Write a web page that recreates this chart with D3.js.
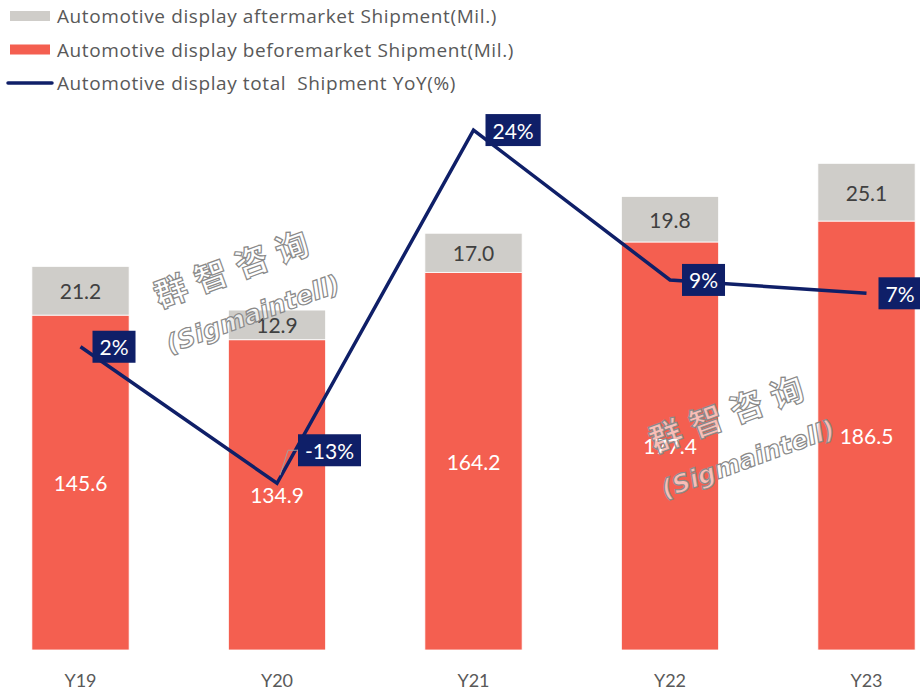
<!DOCTYPE html>
<html><head><meta charset="utf-8">
<script src="https://cdn.jsdelivr.net/npm/d3@7"></script>
<style>body{margin:0;background:#fff} svg{display:block}</style>
</head><body><svg id="c" width="920" height="698"></svg>
<script>
const categories = ["Y19","Y20","Y21","Y22","Y23"];
const beforemarket = [145.6,134.9,164.2,177.4,186.5];
const aftermarket = [21.2,12.9,17.0,19.8,25.1];
const yoy = [1.6,-12.7,24.3,8.6,7.2];
const legendLabels = [
  "Automotive display aftermarket Shipment(Mil.)",
  "Automotive display beforemarket Shipment(Mil.)",
  "Automotive display total  Shipment YoY(%)"
];
const watermarkCN = "群智咨询";
const watermarkEN = "(Sigmaintell)";

const FONT = "Lato, 'Open Sans', sans-serif";
const LFONT = "'Open Sans', sans-serif";
const RED = "#f45f50", GRAY = "#cfcdc9", NAVY = "#0f1f68";

const svg = d3.select("#c");
const x = d3.scaleBand().domain(categories).range([-17.75, 964.75]).paddingInner(0.505).paddingOuter(0.2525);
const y = d3.scaleLinear().domain([0, 280]).range([650, 6]);
const y2 = d3.scaleLinear().domain([-30, 40]).range([648.4, -19.8]);

const data = categories.map((c, i) => ({c, b: beforemarket[i], a: aftermarket[i], r: yoy[i]}));

// bars
const g = svg.append("g");
g.selectAll("rect.b").data(data).join("rect")
  .attr("x", d => x(d.c)).attr("width", x.bandwidth())
  .attr("y", d => y(d.b)).attr("height", d => y(0) - y(d.b))
  .attr("fill", RED).attr("stroke", "#fff").attr("stroke-width", 0.8);
g.selectAll("rect.a").data(data).join("rect")
  .attr("x", d => x(d.c)).attr("width", x.bandwidth())
  .attr("y", d => y(d.b + d.a)).attr("height", d => y(d.b) - y(d.b + d.a))
  .attr("fill", GRAY).attr("stroke", "#fff").attr("stroke-width", 0.8);

// value labels
g.selectAll("text.b").data(data).join("text")
  .attr("x", d => x(d.c) + x.bandwidth()/2).attr("y", d => (y(d.b) + y(0))/2)
  .attr("text-anchor", "middle").attr("dominant-baseline", "central")
  .attr("font-family", FONT).attr("font-size", 21).attr("fill", "#fff")
  .text(d => d.b.toFixed(1));
g.selectAll("text.a").data(data).join("text")
  .attr("x", d => x(d.c) + x.bandwidth()/2).attr("y", d => (y(d.b) + y(d.b + d.a))/2)
  .attr("text-anchor", "middle").attr("dominant-baseline", "central")
  .attr("font-family", FONT).attr("font-size", 21).attr("fill", "#404040")
  .text(d => d.a.toFixed(1));

// x axis
const ax = svg.append("g").attr("transform", "translate(0,650)")
  .call(d3.axisBottom(x).tickSize(0).tickPadding(24));
ax.select(".domain").remove();
ax.selectAll("text").attr("font-family", FONT).attr("font-size", 18).attr("fill", "#595959");

// watermarks
function watermark(cx, cy) {
  const w = svg.append("g").attr("transform", `translate(${cx},${cy}) rotate(-20)`)
    .attr("fill", "#fff").attr("fill-opacity", 0.6).attr("stroke", "#8a8a8a").attr("stroke-width", 1.2);
  w.append("text").attr("x", 0).attr("y", -14).attr("text-anchor", "middle")
    .attr("font-family", "'Noto Sans CJK SC'").attr("font-weight", 700).attr("font-size", 33)
    .attr("letter-spacing", 10).text(watermarkCN);
  w.append("text").attr("x", 0).attr("y", 32).attr("text-anchor", "middle")
    .attr("font-family", "'DejaVu Sans'").attr("font-weight", 700).attr("font-style", "italic").attr("font-size", 25)
    .text(watermarkEN);
}
watermark(245, 292);
watermark(740, 437);

// line
const line = d3.line().x(d => x(d.c) + x.bandwidth()/2).y(d => y2(d.r));
svg.append("path").datum(data).attr("d", line)
  .attr("fill", "none").attr("stroke", NAVY).attr("stroke-width", 3.5).attr("stroke-linejoin", "miter");

// yoy labels
data.forEach(d => {
  const px = x(d.c) + x.bandwidth()/2, py = y2(d.r);
  const neg = d.r < 0;
  const left = px + (neg ? 21 : 12);
  const cy = py + (neg ? -33 : 0);
  if (neg) {
    svg.append("polyline").attr("points", `${left},${cy} ${left-10},${cy} ${px+3},${py-8}`)
      .attr("fill", "none").attr("stroke", "#a0a0a0").attr("stroke-width", 1);
  }
  const lg = svg.append("g");
  const rect = lg.append("rect").attr("fill", NAVY);
  const t = lg.append("text").attr("x", left + 7).attr("y", cy).attr("dominant-baseline", "central")
    .attr("font-family", FONT).attr("font-size", 21).attr("fill", "#fff")
    .text(Math.round(d.r) + "%");
  const bb = t.node().getBBox();
  rect.attr("x", left).attr("y", cy - 16).attr("width", bb.width + 14).attr("height", 32);
});

// legend
const leg = svg.append("g");
legendLabels.forEach((l, i) => {
  const ly = 16 + i * 33.5;
  if (i < 2) {
    leg.append("rect").attr("x", 10).attr("y", ly - 5).attr("width", 40).attr("height", 10)
      .attr("fill", i === 0 ? GRAY : RED);
  } else {
    leg.append("line").attr("x1", 8).attr("x2", 52).attr("y1", ly).attr("y2", ly)
      .attr("stroke", NAVY).attr("stroke-width", 3.5).attr("stroke-linecap", "round");
  }
  leg.append("text").attr("x", 57).attr("y", ly).attr("dominant-baseline", "central")
    .attr("font-family", LFONT).attr("font-size", 19).attr("letter-spacing", 0.6).attr("fill", "#595959")
    .style("white-space", "pre").text(l);
});
</script></body></html>
